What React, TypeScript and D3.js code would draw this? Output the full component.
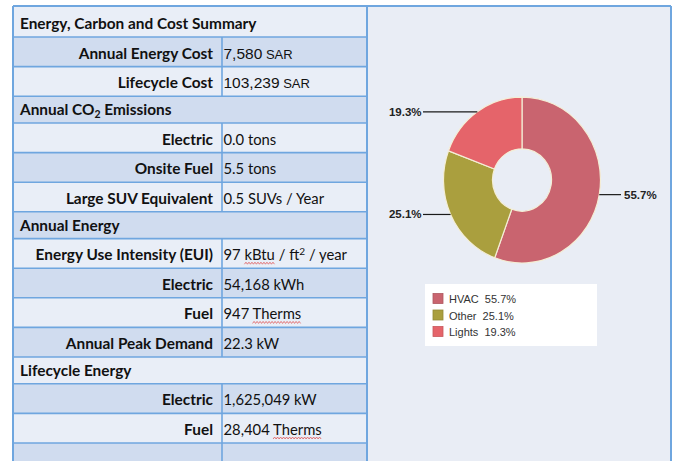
import React, { useEffect, useRef } from 'react';
import * as d3 from 'd3';

// table content
const rowLabels = [
  'Energy, Carbon and Cost Summary',
  'Annual Energy Cost',
  'Lifecycle Cost',
  'Annual CO₂ Emissions',
  'Electric',
  'Onsite Fuel',
  'Large SUV Equivalent',
  'Annual Energy',
  'Energy Use Intensity (EUI)',
  'Electric',
  'Fuel',
  'Annual Peak Demand',
  'Lifecycle Energy',
  'Electric',
  'Fuel',
  '',
];
const rowValues = ['', '7,580', '103,239', '', '0.0', '5.5', '0.5', '', '97', '54,168', '947', '22.3', '', '1,625,049', '28,404', ''];
const rowUnits = ['', 'SAR', 'SAR', '', 'tons', 'tons', 'SUVs / Year', '', 'kBtu / ft² / year', 'kWh', 'Therms', 'kW', '', 'kW', 'Therms', ''];
const headerRows = [0, 3, 7, 12];
const currencyRows = [1, 2];
const squiggleWords = ['kBtu', 'Therms'];

// end-use breakdown
const endUses = ['HVAC', 'Other', 'Lights'];
const endUseShares = [55.7, 25.1, 19.3];
const endUseColors = ['#c9646f', '#aa9f3e', '#e5646a'];

const W = 677;
const H = 461;

const App = () => {
  const svgRef = useRef<SVGSVGElement>(null);

  useEffect(() => {
    const svg = d3.select(svgRef.current);
    svg.selectAll('*').remove();

    const tableX = 13;
    const divX = 222;
    const tableR = 367;
    const chartR = 671;
    const top = 6;
    const border = '#6fa6df';
    const font = 'Lato, "Open Sans", sans-serif';
    const labelSize = 15.4;

    svg.append('rect').attr('width', W).attr('height', H).attr('fill', '#fff');

    // row geometry
    const heights = rowLabels.map((_, i) => (i === 0 ? 31 : headerRows.includes(i) ? 26.8 : 29.6));
    const ys: number[] = [];
    heights.reduce((acc, h) => { ys.push(acc); return acc + h; }, top);

    // chart panel
    svg.append('rect')
      .attr('x', tableR).attr('y', top)
      .attr('width', chartR - tableR).attr('height', H - top)
      .attr('fill', '#e9edf5');

    const rows = svg.append('g');
    rowLabels.forEach((label, i) => {
      const y = ys[i];
      const h = heights[i];
      rows.append('rect')
        .attr('x', tableX).attr('y', y)
        .attr('width', tableR - tableX).attr('height', h)
        .attr('fill', i % 2 === 0 ? '#e9eef7' : '#d0dcef');
      rows.append('line')
        .attr('x1', tableX).attr('x2', tableR)
        .attr('y1', y).attr('y2', y)
        .attr('stroke', border).attr('stroke-width', 1.6);
      if (!headerRows.includes(i)) {
        rows.append('line')
          .attr('x1', divX).attr('x2', divX)
          .attr('y1', y).attr('y2', y + h)
          .attr('stroke', border).attr('stroke-width', 1.6);
      }
    });

    // outer verticals + top
    [tableX, tableR, chartR].forEach(x => {
      svg.append('line')
        .attr('x1', x).attr('x2', x).attr('y1', top).attr('y2', H)
        .attr('stroke', border).attr('stroke-width', 2);
    });
    svg.append('line')
      .attr('x1', tableX).attr('x2', chartR).attr('y1', top).attr('y2', top)
      .attr('stroke', border).attr('stroke-width', 2);

    // write a string with sub / superscript twos
    const writeRich = (text: any, str: string, size: number) => {
      let buf = '';
      let pending = 0;
      const flush = () => {
        if (buf) {
          const t = text.append('tspan').text(buf);
          if (pending) t.attr('dy', pending);
          pending = 0;
        }
        buf = '';
      };
      for (const ch of str) {
        if (ch === '²' || ch === '₂') {
          flush();
          const shift = ch === '²' ? -5 : 3;
          text.append('tspan').attr('dy', shift).attr('font-size', size * 0.68).text('2');
          pending = -shift;
        } else buf += ch;
      }
      flush();
    };

    const squiggle = (x0: number, x1: number, y: number) => {
      const pts: [number, number][] = [];
      for (let x = x0, k = 0; x <= x1; x += 1.5, k++) pts.push([x, y + (k % 2 ? -1 : 1)]);
      svg.append('path')
        .attr('d', d3.line()(pts))
        .attr('fill', 'none').attr('stroke', '#e05a5a').attr('stroke-width', 0.8);
    };

    rowLabels.forEach((label, i) => {
      const base = ys[i] + heights[i] - 8;
      if (headerRows.includes(i)) {
        const t = svg.append('text')
          .attr('x', 20).attr('y', base)
          .attr('font-family', font).attr('font-weight', 700)
          .attr('font-size', labelSize).attr('fill', '#111');
        writeRich(t, label, labelSize);
        return;
      }
      if (!label) return;
      svg.append('text')
        .attr('x', divX - 9).attr('y', base)
        .attr('text-anchor', 'end')
        .attr('font-family', font).attr('font-weight', 700)
        .attr('font-size', labelSize).attr('fill', '#111')
        .text(label);

      const v = svg.append('text')
        .attr('x', divX + 1.5).attr('y', base)
        .attr('fill', '#111');
      if (currencyRows.includes(i)) {
        v.attr('font-family', '"Liberation Sans", Arial, sans-serif');
        v.append('tspan').attr('font-size', 15.5).text(rowValues[i]);
        v.append('tspan').attr('font-size', 13).text(' ' + rowUnits[i]);
      } else {
        v.attr('font-family', font).attr('font-size', 14.8);
        writeRich(v, rowValues[i] + ' ' + rowUnits[i], 14.8);
        const node = v.node() as SVGTextElement;
        const content = node.textContent || '';
        squiggleWords.forEach(w => {
          const idx = content.indexOf(w);
          if (idx >= 0) {
            const sx = node.getStartPositionOfChar(idx).x;
            const ex = node.getEndPositionOfChar(idx + w.length - 1).x;
            squiggle(sx, ex, base + 3);
          }
        });
      }
    });

    // donut
    const cx = 522;
    const cy = 180;
    const rOuter = 78.5;
    const rInner = 29.5;
    const sy = 1.057;

    const pie = d3.pie<number>().sort(null).value(d => d);
    const arcs = pie(endUseShares);
    const arc = d3.arc<d3.PieArcDatum<number>>().innerRadius(rInner).outerRadius(rOuter);

    const donut = svg.append('g').attr('transform', `translate(${cx},${cy}) scale(1,${sy})`);
    donut.selectAll('path')
      .data(arcs)
      .enter().append('path')
      .attr('d', arc)
      .attr('fill', (d, i) => endUseColors[i])
      .attr('stroke', '#f4eed6')
      .attr('stroke-width', 1.2)
      .attr('vector-effect', 'non-scaling-stroke');

    const labels = svg.append('g');
    arcs.forEach((d, i) => {
      const a = (d.startAngle + d.endAngle) / 2;
      const px = cx + rOuter * Math.sin(a);
      const py = cy - rOuter * sy * Math.cos(a);
      const left = px < cx;
      const lx = left ? 423 : 621;
      labels.append('line')
        .attr('x1', px).attr('y1', py)
        .attr('x2', lx).attr('y2', py)
        .attr('stroke', '#1a1a1a').attr('stroke-width', 1.2);
      labels.append('text')
        .attr('x', left ? lx - 1.5 : lx + 3)
        .attr('y', py + 4)
        .attr('text-anchor', left ? 'end' : 'start')
        .attr('font-family', '"Liberation Sans", Arial, sans-serif')
        .attr('font-weight', 700)
        .attr('font-size', 11.5)
        .attr('fill', '#222')
        .text(`${endUseShares[i].toFixed(1)}%`);
    });

    // legend
    const legend = svg.append('g');
    legend.append('rect')
      .attr('x', 425).attr('y', 284)
      .attr('width', 172).attr('height', 62)
      .attr('fill', '#fff');
    endUses.forEach((name, i) => {
      const y = 293.5 + i * 16.5;
      legend.append('rect')
        .attr('x', 433).attr('y', y)
        .attr('width', 10).attr('height', 10)
        .attr('fill', endUseColors[i])
        .attr('stroke', d3.color(endUseColors[i])!.darker(0.4).toString())
        .attr('stroke-width', 0.8);
      legend.append('text')
        .attr('x', 449).attr('y', y + 9.5)
        .attr('font-family', '"Liberation Sans", Arial, sans-serif')
        .attr('font-size', 11)
        .attr('fill', '#333')
        .style('white-space', 'pre')
        .text(`${name}  ${endUseShares[i].toFixed(1)}%`);
    });
  }, []);

  return (
    <svg
      ref={svgRef}
      width={W}
      height={H}
      style={{ position: 'absolute', left: 0, top: 0 }}
    />
  );
};

export default App;
